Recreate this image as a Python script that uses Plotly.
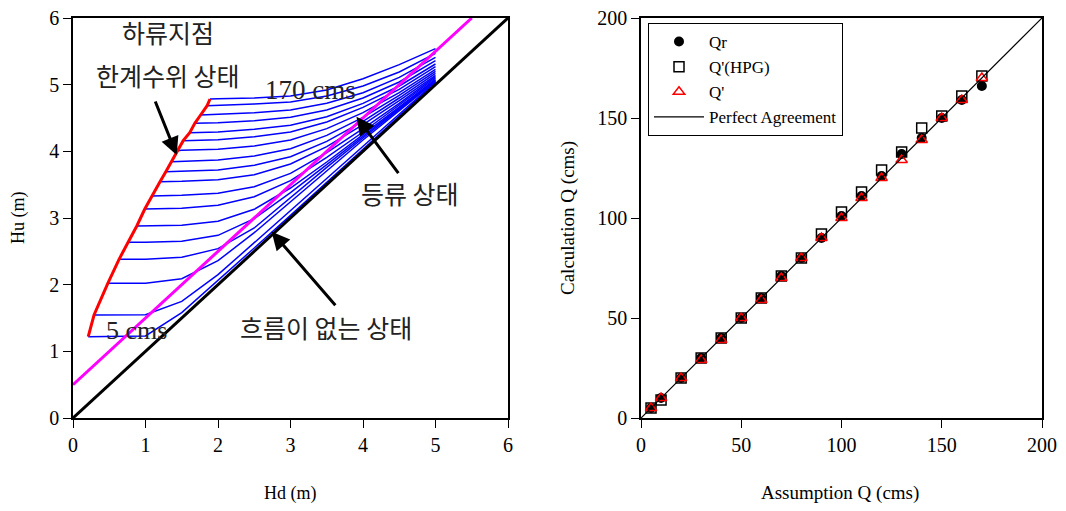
import plotly.graph_objects as go

# ---------------- Left panel data ----------------
Q_cms = [5, 10, 20, 30, 40, 50, 60, 70, 80, 90, 100, 110, 120, 130, 140, 150, 160, 170]
hd_crit = [0.21, 0.29, 0.48, 0.635, 0.76, 0.88, 0.99, 1.085, 1.20, 1.28, 1.36, 1.44, 1.52, 1.61, 1.68, 1.76, 1.85, 1.89]
hu_crit = [1.22, 1.545, 2.02, 2.38, 2.635, 2.88, 3.135, 3.33, 3.545, 3.695, 3.845, 4.01, 4.16, 4.28, 4.42, 4.545, 4.685, 4.785]
hd_grid = [1.0, 1.5, 2.0, 2.5, 3.0, 3.5, 4.0, 4.5, 5.0]

hu_005 = [1.23, 1.58, 2.06, 2.55, 3.04, 3.53, 4.03, 4.53, 5.03]
hu_010 = [1.55, 1.75, 2.15, 2.63, 3.11, 3.59, 4.07, 4.56, 5.04]
hu_020 = [2.02, 2.09, 2.36, 2.78, 3.24, 3.71, 4.17, 4.61, 5.05]
hu_030 = [2.38, 2.41, 2.54, 2.85, 3.31, 3.76, 4.20, 4.63, 5.06]
hu_040 = [2.635, 2.65, 2.74, 2.99, 3.38, 3.80, 4.22, 4.64, 5.07]
hu_050 = [2.88, 2.89, 2.95, 3.13, 3.45, 3.84, 4.25, 4.66, 5.08]
hu_060 = [3.135, 3.145, 3.19, 3.32, 3.56, 3.91, 4.29, 4.69, 5.10]
hu_070 = [3.34, 3.37, 3.47, 3.67, 3.98, 4.34, 4.72, 5.12]
hu_080 = [3.55, 3.575, 3.65, 3.81, 4.07, 4.40, 4.76, 5.14]
hu_090 = [3.70, 3.72, 3.79, 3.92, 4.15, 4.45, 4.80, 5.17]
hu_100 = [3.85, 3.87, 3.93, 4.04, 4.24, 4.51, 4.84, 5.20]
hu_110 = [4.015, 4.03, 4.08, 4.17, 4.34, 4.58, 4.88, 5.23]
hu_120 = [4.175, 4.22, 4.29, 4.44, 4.66, 4.93, 5.27]
hu_130 = [4.29, 4.33, 4.39, 4.52, 4.72, 4.98, 5.31]
hu_140 = [4.43, 4.46, 4.51, 4.62, 4.80, 5.04, 5.36]
hu_150 = [4.555, 4.58, 4.62, 4.72, 4.88, 5.11, 5.41]
hu_160 = [4.69, 4.71, 4.74, 4.83, 4.98, 5.19, 5.47]
hu_170 = [4.79, 4.80, 4.83, 4.92, 5.09, 5.30, 5.54]

no_flow_x = [0, 6]
no_flow_y = [0, 6]
uniform_x = [0, 5.5]
uniform_y = [0.5, 6]

# ---------------- Right panel data ----------------
q_assumed = [5, 10, 20, 30, 40, 50, 60, 70, 80, 90, 100, 110, 120, 130, 140, 150, 160, 170]
q_r = [5, 10, 20, 30, 40, 50, 60, 71, 80, 90, 101, 111, 121, 132, 140, 150, 159, 166]
q_hpg = [5, 9, 20, 30, 40, 50, 60, 71, 80, 92, 103, 113, 124, 133, 145, 151, 161, 171]
q_prime = [5, 10, 20, 29, 39, 50, 59, 70, 80, 90, 100, 110, 120, 129, 139, 150, 159, 170]
perfect_x = [0, 200]
perfect_y = [0, 200]

W, H = 1066, 511
OFF = 8  # page body margin
SERIF = "Liberation Serif, Times New Roman, serif"
KR = "Noto Sans CJK KR, sans-serif"

fig = go.Figure()

hu_lines = [hu_005, hu_010, hu_020, hu_030, hu_040, hu_050, hu_060, hu_070, hu_080,
            hu_090, hu_100, hu_110, hu_120, hu_130, hu_140, hu_150, hu_160, hu_170]
for hc, h0, hl in zip(hd_crit, hu_crit, hu_lines):
    xs = [hc] + hd_grid[len(hd_grid) - len(hl):]
    ys = [h0] + hl
    fig.add_trace(go.Scatter(x=xs, y=ys, mode="lines", line=dict(color="#0000ff", width=1.5),
                             showlegend=False, xaxis="x", yaxis="y", hoverinfo="skip"))

fig.add_trace(go.Scatter(x=no_flow_x, y=no_flow_y, mode="lines", line=dict(color="black", width=3),
                         showlegend=False, xaxis="x", yaxis="y"))
fig.add_trace(go.Scatter(x=uniform_x, y=uniform_y, mode="lines", line=dict(color="#ff00ff", width=3),
                         showlegend=False, xaxis="x", yaxis="y"))
fig.add_trace(go.Scatter(x=hd_crit, y=hu_crit, mode="lines", line=dict(color="#ff0000", width=3),
                         showlegend=False, xaxis="x", yaxis="y"))

# Right panel
fig.add_trace(go.Scatter(x=q_assumed, y=q_r, mode="markers", name="Qr",
                         marker=dict(symbol="circle", size=10, color="black"),
                         xaxis="x2", yaxis="y2"))
fig.add_trace(go.Scatter(x=q_assumed, y=q_hpg, mode="markers", name="Q'(HPG)",
                         marker=dict(symbol="square-open", size=10, color="black", line=dict(width=1.5)),
                         xaxis="x2", yaxis="y2"))
fig.add_trace(go.Scatter(x=q_assumed, y=q_prime, mode="markers", name="Q'",
                         marker=dict(symbol="triangle-up-open", size=10, color="red", line=dict(width=1.5)),
                         xaxis="x2", yaxis="y2"))
fig.add_trace(go.Scatter(x=perfect_x, y=perfect_y, mode="lines", name="Perfect Agreement",
                         line=dict(color="black", width=1.2), xaxis="x2", yaxis="y2"))

def px_x(p):
    return (p - OFF) / W

def px_y(p):
    return 1 - (p - OFF) / H

ax_common = dict(showgrid=False, zeroline=False, showline=True, linecolor="black", linewidth=1.5,
                 mirror=True, ticks="outside", ticklen=8, tickwidth=1.2, tickcolor="black",
                 tickfont=dict(family=SERIF, size=20, color="black"), automargin=False,
                 ticklabeloverflow="allow")

fig.update_layout(
    width=W, height=H,
    margin=dict(l=0, r=0, t=0, b=0),
    paper_bgcolor="white", plot_bgcolor="white",
    xaxis=dict(domain=[px_x(73), px_x(508)], range=[0, 6], dtick=1, anchor="y", **ax_common),
    yaxis=dict(domain=[px_y(418), px_y(18)], range=[0, 6], dtick=1, anchor="x", **ax_common),
    xaxis2=dict(domain=[px_x(641), px_x(1042)], range=[0, 200], dtick=50, anchor="y2", **ax_common),
    yaxis2=dict(domain=[px_y(418), px_y(18)], range=[0, 200], dtick=50, anchor="x2", **ax_common),
    legend=dict(x=px_x(648), y=px_y(23), xanchor="left", yanchor="top",
                bordercolor="black", borderwidth=1, bgcolor="white",
                font=dict(family=SERIF, size=17, color="black"),
                tracegroupgap=0, itemwidth=50, entrywidth=182, entrywidthmode="pixels"),
    showlegend=True,
)

annotations = [
    dict(text="Hu (m)", x=px_x(18), y=px_y(218), textangle=-90, font=dict(family=SERIF, size=18)),
    dict(text="Hd (m)", x=px_x(290), y=px_y(493), font=dict(family=SERIF, size=18)),
    dict(text="Calculation Q (cms)", x=px_x(568), y=px_y(218), textangle=-90, font=dict(family=SERIF, size=19)),
    dict(text="Assumption Q (cms)", x=px_x(840), y=px_y(493), font=dict(family=SERIF, size=19)),
]
for a in annotations:
    a.update(xref="paper", yref="paper", showarrow=False, xanchor="center", yanchor="middle")
    a["font"]["color"] = "black"
    fig.add_annotation(**a)

labels = [
    ("하류지점", 1.31, 5.79, KR, 25),
    ("한계수위 상태", 1.31, 5.145, KR, 25),
    ("170 cms", 3.27, 4.92, SERIF, 27),
    ("등류 상태", 4.65, 3.375, KR, 25),
    ("5 cms", 0.87, 1.32, SERIF, 26),
    ("흐름이 없는 상태", 3.49, 1.365, KR, 25),
]
for t, x, y, fam, sz in labels:
    fig.add_annotation(text=t, x=x, y=y, xref="x", yref="y", showarrow=False,
                       font=dict(family=fam, size=sz, color="#222222"))

arrows = [
    (1.43, 3.945, -22, -55),
    (3.91, 4.52, 43, 58),
    (2.74, 2.795, 65, 75),
]
for x, y, axp, ayp in arrows:
    fig.add_annotation(text="", x=x, y=y, xref="x", yref="y", ax=axp, ay=ayp,
                       showarrow=True, arrowhead=2, arrowsize=1.2, arrowwidth=3, arrowcolor="black")

fig.write_html("out.html")
